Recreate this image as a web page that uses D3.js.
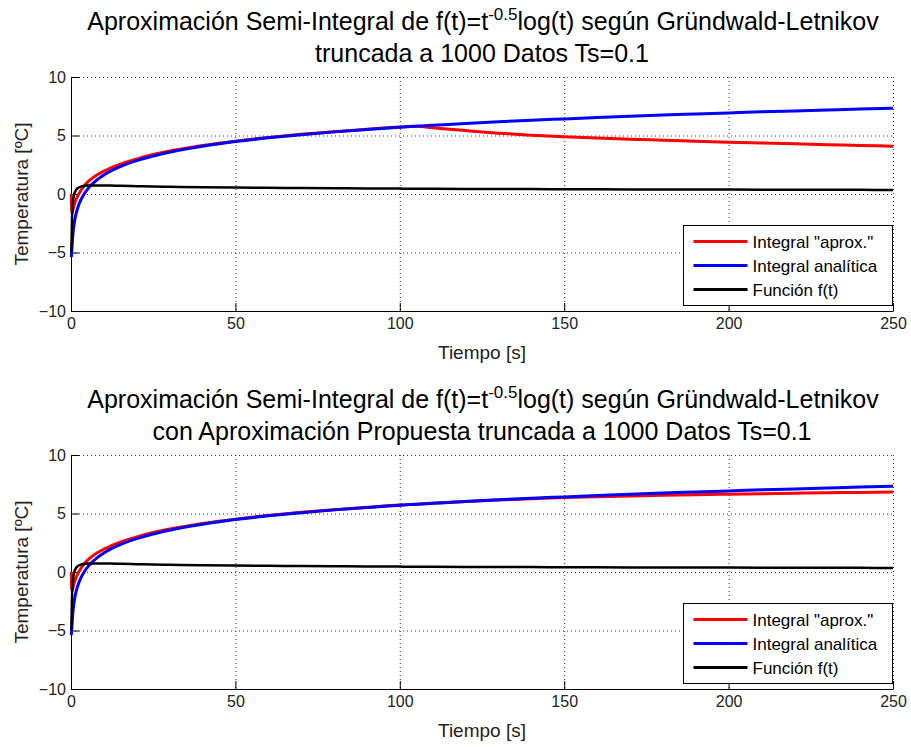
<!DOCTYPE html>
<html lang="es">
<head>
<meta charset="UTF-8">
<title>Semi-Integral Grünwald-Letnikov</title>
<style>
  body { margin: 0; background: #fff; }
  svg { font-family: Arial, "Liberation Sans", Helvetica, sans-serif; }
  .rejilla { stroke: #333; stroke-width: 1; stroke-dasharray: 1 3; }
  .curva { fill: none; stroke-linejoin: round; }
</style>
<script src="https://d3js.org/d3.v7.min.js"></script>
</head>
<body>
<script>
// Tiempo [s] de las muestras
var tiempo = [0.1, 0.2, 0.3, 0.5, 0.7, 1, 1.5, 2, 3, 4, 5, 6, 8, 10, 12, 15, 20, 25, 30, 40,
              50, 60, 70, 80, 90, 100, 105, 110, 120, 130, 140, 150, 160, 170, 180, 190, 200,
              210, 220, 230, 240, 250];

// Integral analitica (azul)
var integralAnalitica = [-5.4, -5.0, -4.6, -3.7, -3.1, -2.46, -1.74, -1.23, -0.51, 0.0, 0.40, 0.72,
              1.23, 1.62, 1.95, 2.34, 2.85, 3.25, 3.57, 4.08, 4.48, 4.80, 5.07, 5.31, 5.52, 5.71,
              5.79, 5.87, 6.03, 6.17, 6.30, 6.42, 6.54, 6.65, 6.75, 6.84, 6.93, 7.02, 7.10, 7.18,
              7.26, 7.33];

// Integral "aprox." truncada a 1000 datos (rojo, grafico superior)
var aproxTruncada = [0.0, -1.4, -1.6, -1.5, -1.2, -0.9, -0.5, -0.2, 0.3, 0.7, 1.0, 1.25,
              1.65, 1.95, 2.22, 2.55, 3.0, 3.37, 3.67, 4.15, 4.52, 4.83, 5.1, 5.33, 5.53, 5.72,
              5.78, 5.66, 5.42, 5.2, 5.03, 4.9, 4.79, 4.69, 4.6, 4.51, 4.43, 4.36, 4.29, 4.22,
              4.15, 4.08];

// Integral "aprox." con aproximacion propuesta (rojo, grafico inferior)
var aproxPropuesta = [0.0, -1.4, -1.6, -1.5, -1.2, -0.9, -0.5, -0.2, 0.3, 0.7, 1.0, 1.25,
              1.65, 1.95, 2.22, 2.55, 3.0, 3.37, 3.67, 4.15, 4.52, 4.83, 5.1, 5.33, 5.53, 5.72,
              5.79, 5.87, 6.02, 6.15, 6.26, 6.36, 6.44, 6.50, 6.56, 6.61, 6.65, 6.69, 6.73, 6.77,
              6.80, 6.84];

// Funcion f(t) = t^-0.5 log(t) (negro)
var funcion = [-5.0, -3.6, -2.2, -0.98, -0.43, 0.0, 0.33, 0.49, 0.63, 0.69, 0.72, 0.73,
              0.735, 0.73, 0.72, 0.70, 0.67, 0.64, 0.62, 0.58, 0.55, 0.53, 0.51, 0.49, 0.47, 0.46,
              0.454, 0.448, 0.437, 0.427, 0.418, 0.409, 0.401, 0.394, 0.387, 0.381, 0.375, 0.369,
              0.364, 0.358, 0.354, 0.349];

var ticksX = [0, 50, 100, 150, 200, 250];
var ticksY = [-10, -5, 0, 5, 10];
var leyenda = ['Integral "aprox."', 'Integral analítica', 'Función f(t)'];
var colores = ["#ff0000", "#0000ff", "#000000"];

var ancho = 911, alto = 747;
var svg = d3.select("body").append("svg")
    .attr("width", ancho)
    .attr("height", alto);

var izq = 71, dch = 893, altoGraf = 234;

var x = d3.scaleLinear().domain([0, 250]).range([izq, dch]);

function grafico(sup, aprox, titulo2) {
  var y = d3.scaleLinear().domain([-10, 10]).range([sup + altoGraf, sup]);
  var g = svg.append("g");

  // titulo (dos lineas)
  var t1 = g.append("text")
      .attr("x", (izq + dch) / 2 + 1)
      .attr("y", sup - 47)
      .attr("text-anchor", "middle")
      .style("font-size", "25px");
  t1.append("tspan").text("Aproximación Semi-Integral de f(t)=t");
  t1.append("tspan").attr("dy", -10).style("font-size", "17px").text("-0.5");
  t1.append("tspan").attr("dy", 10).text("log(t) según Gründwald-Letnikov");

  g.append("text")
      .attr("x", (izq + dch) / 2)
      .attr("y", sup - 15)
      .attr("text-anchor", "middle")
      .style("font-size", "25px")
      .text(titulo2);

  // rejilla punteada
  g.selectAll(".gx").data(ticksX.slice(1)).enter().append("line")
      .attr("class", "rejilla")
      .attr("x1", function(d) { return x(d) + 0.5; })
      .attr("x2", function(d) { return x(d) + 0.5; })
      .attr("y1", sup).attr("y2", sup + altoGraf);
  g.selectAll(".gy").data(ticksY.slice(1)).enter().append("line")
      .attr("class", "rejilla")
      .attr("y1", function(d) { return y(d) + 0.5; })
      .attr("y2", function(d) { return y(d) + 0.5; })
      .attr("x1", izq).attr("x2", dch);

  // ejes con ticks hacia dentro
  var ejeX = d3.axisBottom(x).tickValues(ticksX).tickSizeInner(-8).tickSizeOuter(0).tickPadding(7);
  var ejeY = d3.axisLeft(y).tickValues(ticksY).tickSizeInner(-8).tickSizeOuter(0).tickPadding(5);

  var gx = g.append("g").attr("transform", "translate(0," + (sup + altoGraf) + ")").call(ejeX);
  var gy = g.append("g").attr("transform", "translate(" + izq + ",0)").call(ejeY);
  [gx, gy].forEach(function(e) {
    e.select(".domain").attr("stroke", "#000");
    e.selectAll(".tick line").attr("stroke", "#000");
    e.selectAll("text").style("font-size", "16px").style("font-family", "Arial, 'Liberation Sans', sans-serif").attr("fill", "#222");
  });

  // curvas
  var series = [aprox, integralAnalitica, funcion];
  var anchos = [3, 3, 2.5];
  var linea = d3.line()
      .x(function(d, i) { return x(tiempo[i]); })
      .y(function(d) { return y(d); })
      .curve(d3.curveMonotoneX);
  series.forEach(function(s, k) {
    g.append("path")
        .datum(s)
        .attr("class", "curva")
        .attr("stroke", colores[k])
        .attr("stroke-width", anchos[k])
        .attr("d", linea);
  });

  // etiquetas de ejes
  g.append("text")
      .attr("x", (izq + dch) / 2)
      .attr("y", sup + altoGraf + 48)
      .attr("text-anchor", "middle")
      .style("font-size", "19px")
      .attr("fill", "#222")
      .text("Tiempo [s]");
  g.append("text")
      .attr("transform", "translate(28," + (sup + altoGraf / 2) + ") rotate(-90)")
      .attr("text-anchor", "middle")
      .style("font-size", "19px")
      .attr("fill", "#222")
      .text("Temperatura [ºC]");

  // leyenda
  var ly = sup + 148;
  var ley = g.append("g").attr("transform", "translate(683.5," + (ly + 0.5) + ")");
  ley.append("rect")
      .attr("width", 209).attr("height", 80)
      .attr("fill", "#fff").attr("stroke", "#000");
  leyenda.forEach(function(txt, k) {
    var yy = 16 + k * 24;
    ley.append("line")
        .attr("x1", 10).attr("x2", 64)
        .attr("y1", yy).attr("y2", yy)
        .attr("stroke", colores[k]).attr("stroke-width", 3);
    ley.append("text")
        .attr("x", 69).attr("y", yy + 6)
        .style("font-size", "17px")
        .text(txt);
  });
}

grafico(77, aproxTruncada, "truncada a 1000 Datos Ts=0.1");
grafico(455, aproxPropuesta, "con Aproximación Propuesta truncada a 1000 Datos Ts=0.1");
</script>
</body>
</html>
